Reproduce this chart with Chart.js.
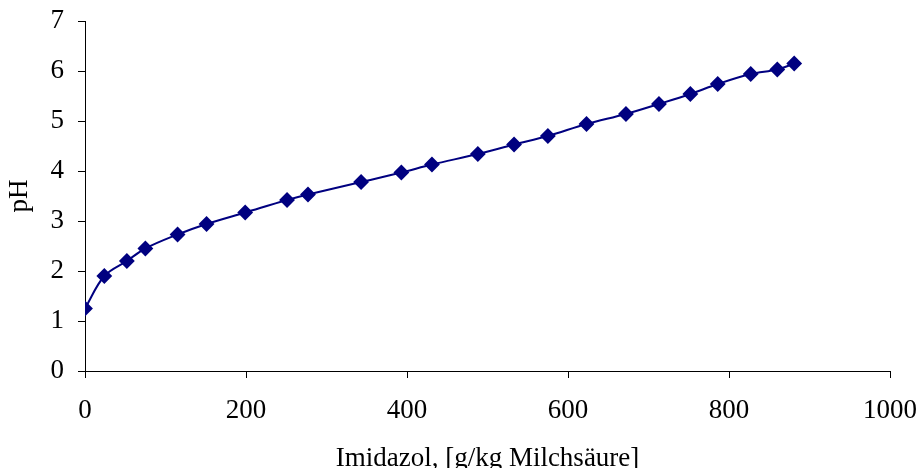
<!DOCTYPE html>
<html lang="de">
<head>
<meta charset="UTF-8">
<title>pH vs. Imidazol</title>
<script src="https://cdn.jsdelivr.net/npm/chart.js"></script>
<style>
  html, body { margin: 0; padding: 0; background: #fff; }
  .chart-box { width: 922px; height: 468px; }
</style>
</head>
<body>
<div class="chart-box"><canvas id="phChart"></canvas></div>
<script>
// Imidazol in g/kg Milchsäure
const imidazol = [0, 24, 52, 75, 115, 151, 199, 251, 277, 343, 393, 431, 488, 533, 575, 623, 672, 713, 752, 786, 827, 860, 881];
const ph = [1.25, 1.9, 2.2, 2.45, 2.73, 2.94, 3.17, 3.42, 3.53, 3.78, 3.97, 4.13, 4.34, 4.53, 4.7, 4.94, 5.14, 5.34, 5.54, 5.74, 5.94, 6.03, 6.15];
const xTicks = [0, 200, 400, 600, 800, 1000];
const yTicks = [0, 1, 2, 3, 4, 5, 6, 7];

const serif = "'Liberation Serif', 'Times New Roman', Times, serif";
const points = imidazol.map((x, i) => ({ x: x, y: ph[i] }));

new Chart(document.getElementById('phChart'), {
  type: 'scatter',
  data: {
    datasets: [{
      data: points,
      showLine: true,
      borderColor: '#000080',
      backgroundColor: '#000080',
      borderWidth: 2,
      tension: 0.35,
      pointStyle: 'rectRot',
      pointRadius: 6.5,
      pointHoverRadius: 6.5
    }]
  },
  options: {
    responsive: true,
    maintainAspectRatio: false,
    animation: false,
    layout: { padding: { top: 21, right: 32, left: 0, bottom: 0 } },
    plugins: { legend: { display: false }, tooltip: { enabled: false } },
    scales: {
      x: {
        type: 'linear',
        min: 0, max: 1000,
        afterBuildTicks: s => { s.ticks = xTicks.map(v => ({ value: v })); },
        afterFit: s => { s.height = 97; s.paddingRight = 0; s.paddingLeft = 0; },
        grid: { drawOnChartArea: false, tickLength: 7, color: '#000', tickColor: '#000' },
        border: { color: '#000', width: 1 },
        ticks: { color: '#000', font: { family: serif, size: 27 }, padding: 17, maxRotation: 0, callback: v => String(v) },
        title: { display: true, text: 'Imidazol, [g/kg Milchsäure]', color: '#000', font: { family: serif, size: 27 }, padding: { top: 22, bottom: -7 } }
      },
      y: {
        min: 0, max: 7,
        afterBuildTicks: s => { s.ticks = yTicks.map(v => ({ value: v })); },
        afterFit: s => { s.width = 85; s.paddingTop = 0; s.paddingBottom = 0; },
        grid: { drawOnChartArea: false, tickLength: 7, color: '#000', tickColor: '#000' },
        border: { color: '#000', width: 1 },
        ticks: { color: '#000', font: { family: serif, size: 27 }, padding: 14, callback: v => String(v) },
        title: { display: true, text: 'pH', color: '#000', font: { family: serif, size: 27 }, padding: { bottom: 0 } }
      }
    }
  }
});
</script>
</body>
</html>
